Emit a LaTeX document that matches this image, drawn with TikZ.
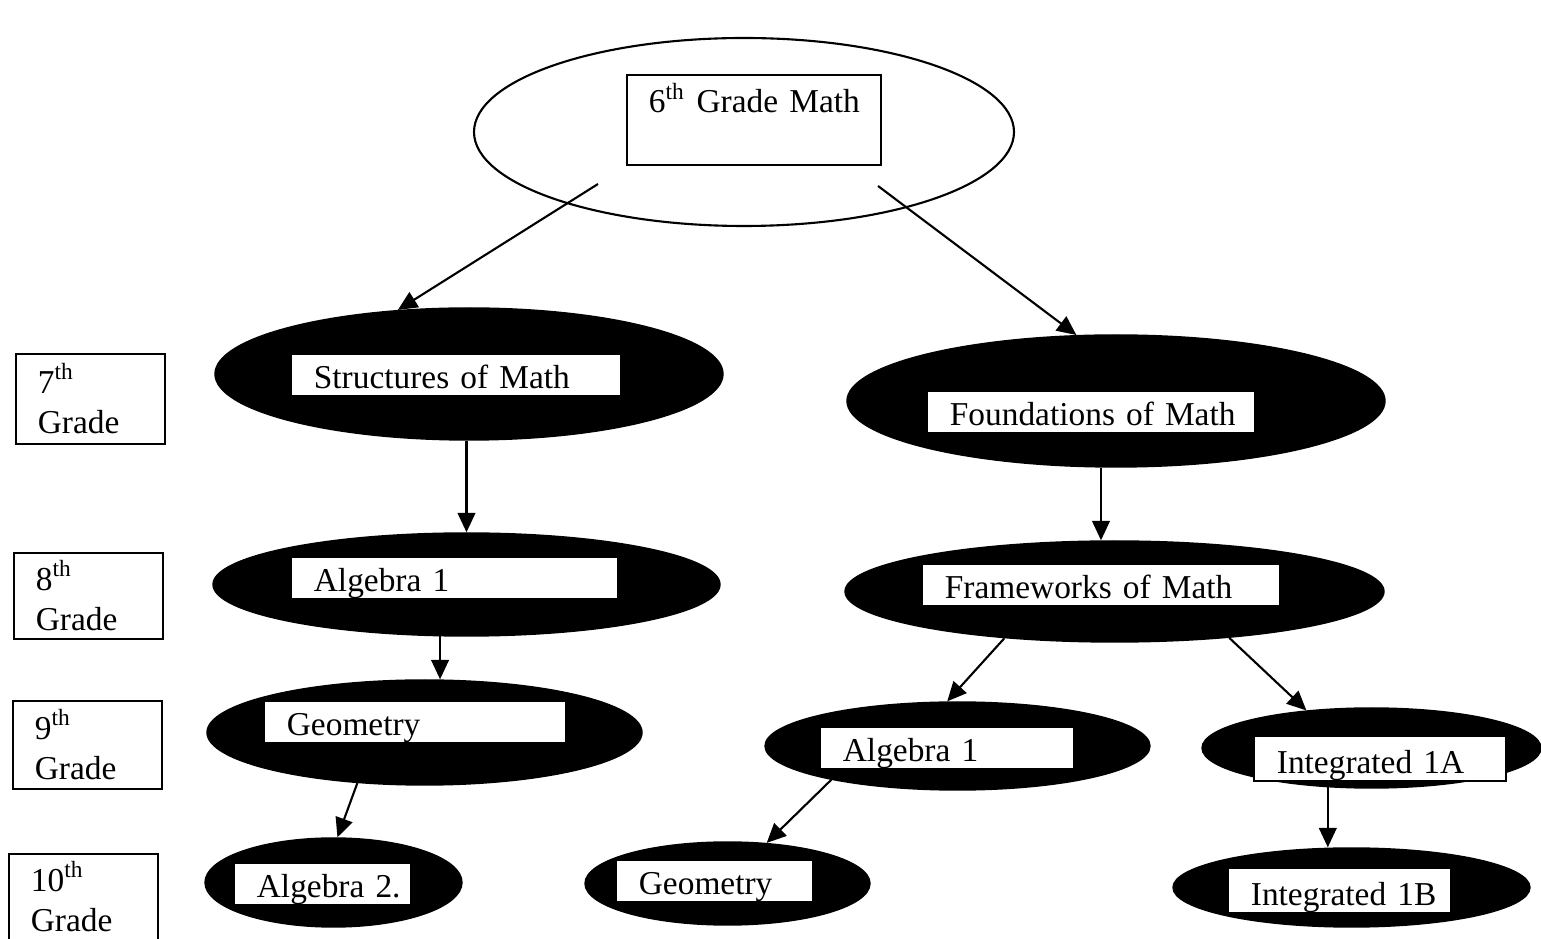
\documentclass[tikz,border=0pt]{standalone}
\usepackage{fontspec}
\setmainfont{Liberation Serif}
\usetikzlibrary{shapes.geometric,arrows.meta}
\begin{document}
\begin{tikzpicture}[font=\fontsize{9.5}{11.5}\selectfont,
  		course/.style={ellipse, fill=black, draw=black, inner sep=0pt},
  		title/.style={rectangle, draw=black, line width=0.5pt, fill=white, anchor=north west,
  			align=left, inner xsep=0.23cm, inner ysep=0pt, text height=0.35cm, text depth=0.07cm,
  			execute at begin node={\leavevmode\hbox\bgroup}, execute at end node={\egroup}},
  		grade/.style={rectangle, draw=black, line width=0.5pt, anchor=north west, align=left,
  			inner xsep=0.22cm, inner ysep=0pt, text width=1.05cm},
  		arr/.style={-{Triangle[length=5.5pt,width=5pt]}, line width=0.6pt}]
		\useasboundingbox (0,0) rectangle (15.41,-9.39);
		% 6th grade
  		\node[ellipse, draw=black, line width=0.6pt, fill=white, minimum width=5.40cm, minimum height=1.88cm] (top) at (7.44,-1.32) {};
  		\node[title, text width=2.10cm, inner xsep=0.22cm, text height=0.38cm, text depth=0.52cm] (topbox) at (6.26,-0.74) {6\textsuperscript{th} Grade Math};
		% grade labels
  		\node[grade, minimum height=0.90cm] (g7) at (0.15,-3.53) {7\textsuperscript{th}\\Grade};
  		\node[grade, minimum height=0.86cm] (g8) at (0.13,-5.52) {8\textsuperscript{th}\\Grade};
  		\node[grade, minimum height=0.88cm] (g9) at (0.12,-7.00) {9\textsuperscript{th}\\Grade};
  		\node[grade, minimum height=0.86cm] (g10) at (0.08,-8.53) {10\textsuperscript{th}\\Grade};
		% left branch
  		\node[course, minimum width=5.08cm, minimum height=1.32cm] (strct) at (4.69,-3.74) {};
  		\node[title, text width=2.84cm] (strctbox) at (2.90,-3.53) {Structures of Math};
  		\node[course, minimum width=5.07cm, minimum height=1.03cm] (alg1L) at (4.665,-5.845) {};
  		\node[title, text width=2.81cm] (alg1Lbox) at (2.90,-5.56) {Algebra 1};
  		\node[course, minimum width=4.35cm, minimum height=1.05cm] (geoL) at (4.245,-7.325) {};
  		\node[title, text width=2.56cm] (geoLbox) at (2.63,-7.00) {Geometry};
  		\node[course, minimum width=2.57cm, minimum height=0.89cm] (alg2) at (3.335,-8.825) {};
  		\node[title, text width=1.31cm] (alg2box) at (2.33,-8.62) {Algebra 2.};
		% right branch
  		\node[course, minimum width=5.38cm, minimum height=1.32cm] (found) at (11.16,-4.01) {};
  		\node[title, text width=2.82cm] (foundbox) at (9.26,-3.90) {Foundations of Math};
  		\node[course, minimum width=5.39cm, minimum height=1.01cm] (frame) at (11.145,-5.915) {};
  		\node[title, text width=3.12cm] (framebox) at (9.21,-5.63) {Frameworks of Math};
  		\node[course, minimum width=3.85cm, minimum height=0.88cm] (alg1R) at (9.575,-7.46) {};
  		\node[title, text width=2.08cm] (alg1Rbox) at (8.19,-7.26) {Algebra 1};
  		\node[course, minimum width=2.85cm, minimum height=0.83cm] (geoR) at (7.275,-8.835) {};
  		\node[title, text width=1.51cm] (geoRbox) at (6.15,-8.59) {Geometry};
  		\node[course, minimum width=3.39cm, minimum height=0.80cm] (int1A) at (13.715,-7.48) {};
  		\node[title, text width=2.06cm, text height=0.38cm] (int1Abox) at (12.53,-7.35) {Integrated 1A};
  		\node[course, minimum width=3.57cm, minimum height=0.79cm] (int1B) at (13.515,-8.875) {};
  		\node[title, text width=1.77cm, text height=0.38cm] (int1Bbox) at (12.27,-8.67) {Integrated 1B};
		% arrows
  		\draw[arr] ([shift={(-1.46,-0.52)}]top.center) -- (strct.138);
  		\draw[arr] ([shift={(1.34,-0.54)}]top.center) -- (found.121);
  		\draw[arr] (alg1L.north |- strct.south) -- (alg1L.north);
  		\draw[arr] (alg1L.243) -- (alg1L.243 |- geoL.north);
  		\draw[arr] (geoL.217) -- (alg2.85);
  		\draw[arr] ([xshift=-1.35mm]frame.north |- found.south) -- ([xshift=-1.35mm]frame.north);
  		\draw[arr] (frame.203) -- (alg1R.103);
  		\draw[arr] (frame.338) -- (int1A.150);
  		\draw[arr] (alg1R.195) -- (geoR.46);
  		\draw[arr] (int1A.222) -- (int1A.222 |- int1B.north);
\end{tikzpicture}
\end{document}
